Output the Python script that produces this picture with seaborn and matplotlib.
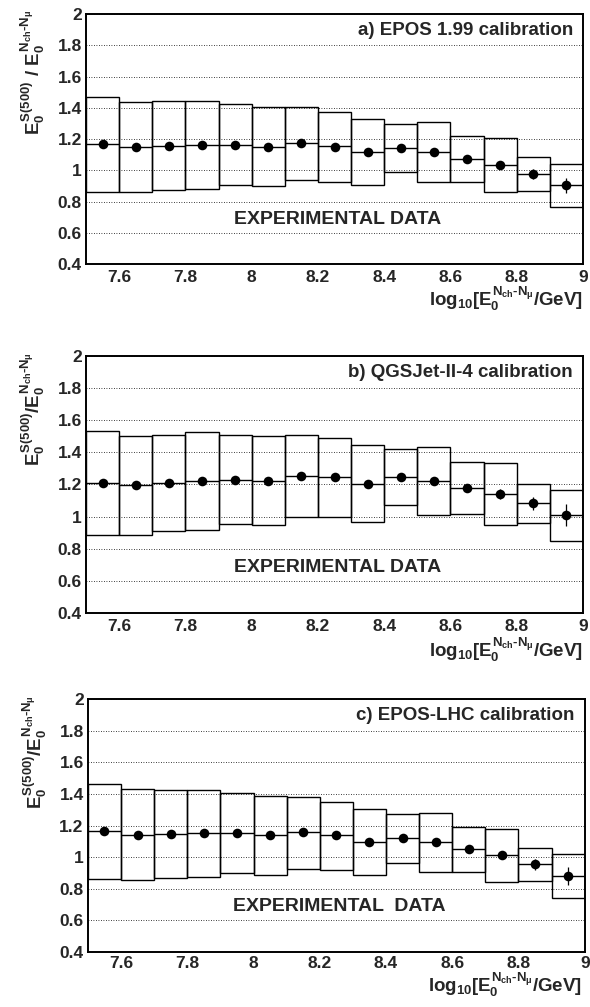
"""
Energy ratio E0^S(500) / E0^(Nch-Nmu) vs log10 energy for three calibrations.
"""

import matplotlib
matplotlib.use("Agg")
import matplotlib.pyplot as plt
from matplotlib.ticker import MultipleLocator, FuncFormatter
import seaborn as sns

# bin centres in log10(E/GeV), bin width 0.1
centers = [7.55, 7.65, 7.75, 7.85, 7.95, 8.05, 8.15, 8.25,
           8.35, 8.45, 8.55, 8.65, 8.75, 8.85, 8.95]
bin_width = 0.1

# a) EPOS 1.99
a_hi = [1.471, 1.437, 1.443, 1.443, 1.422, 1.403, 1.403, 1.375,
        1.328, 1.294, 1.307, 1.217, 1.204, 1.083, 1.042]
a_mean = [1.168, 1.149, 1.155, 1.159, 1.162, 1.151, 1.172, 1.155,
          1.117, 1.140, 1.117, 1.070, 1.036, 0.976, 0.903]
a_lo = [0.863, 0.859, 0.874, 0.882, 0.906, 0.899, 0.938, 0.927,
        0.906, 0.987, 0.923, 0.927, 0.863, 0.867, 0.763]
a_pt = [1.168, 1.149, 1.155, 1.159, 1.162, 1.151, 1.172, 1.151,
        1.117, 1.144, 1.117, 1.070, 1.036, 0.976, 0.903]
a_err = [0.008, 0.008, 0.008, 0.008, 0.008, 0.008, 0.008, 0.008,
         0.008, 0.008, 0.010, 0.010, 0.015, 0.032, 0.050]

# b) QGSJet-II-4
b_hi = [1.532, 1.501, 1.511, 1.524, 1.511, 1.499, 1.511, 1.487,
        1.443, 1.418, 1.435, 1.342, 1.336, 1.203, 1.166]
b_mean = [1.207, 1.195, 1.209, 1.222, 1.228, 1.224, 1.255, 1.244,
          1.205, 1.244, 1.224, 1.180, 1.141, 1.083, 1.011]
b_lo = [0.886, 0.888, 0.909, 0.919, 0.953, 0.948, 1.000, 0.996,
        0.969, 1.073, 1.011, 1.017, 0.948, 0.959, 0.847]
b_pt = [1.207, 1.195, 1.209, 1.222, 1.228, 1.224, 1.255, 1.244,
        1.205, 1.244, 1.222, 1.180, 1.141, 1.083, 1.011]
b_err = [0.008, 0.008, 0.008, 0.008, 0.008, 0.008, 0.008, 0.008,
         0.008, 0.008, 0.010, 0.012, 0.031, 0.041, 0.070]

# c) EPOS-LHC
c_hi = [1.463, 1.429, 1.427, 1.427, 1.404, 1.385, 1.383, 1.351,
        1.305, 1.271, 1.281, 1.193, 1.176, 1.055, 1.019]
c_mean = [1.163, 1.142, 1.148, 1.150, 1.150, 1.138, 1.157, 1.138,
          1.097, 1.121, 1.093, 1.049, 1.011, 0.954, 0.880]
c_lo = [0.859, 0.854, 0.867, 0.873, 0.899, 0.888, 0.928, 0.918,
        0.890, 0.966, 0.907, 0.907, 0.844, 0.848, 0.742]
c_pt = [1.163, 1.142, 1.148, 1.150, 1.150, 1.138, 1.157, 1.138,
        1.097, 1.121, 1.093, 1.049, 1.011, 0.954, 0.880]
c_err = [0.008, 0.008, 0.008, 0.008, 0.008, 0.008, 0.008, 0.008,
         0.008, 0.008, 0.010, 0.012, 0.015, 0.037, 0.055]

titles = ["a) EPOS 1.99 calibration",
          "b) QGSJet-II-4 calibration",
          "c) EPOS-LHC calibration"]
exp_texts = ["EXPERIMENTAL DATA", "EXPERIMENTAL DATA", "EXPERIMENTAL  DATA"]
ylabels = [r"$E_0^{S(500)}\ /\ E_0^{N_{ch}\text{-}N_{\mu}}$",
           r"$E_0^{S(500)}/E_0^{N_{ch}\text{-}N_{\mu}}$",
           r"$E_0^{S(500)}/E_0^{N_{ch}\text{-}N_{\mu}}$"]
xlabel = r"$log_{10}[E_0^{N_{ch}\text{-}N_{\mu}}/GeV]$"


def draw_panel(ax, hi, mean, lo, pt, err, title, exp_text, ylabel,
               xlab_x, xlab_y, xpad=4.5):
    heights = [h - l for h, l in zip(hi, lo)]
    # outline boxes spanning the systematic band in each bin
    ax.bar(centers, heights, bottom=lo, width=bin_width, fill=False,
           edgecolor="black", linewidth=1.0, zorder=3)
    ax.hlines(mean, [c - bin_width / 2 for c in centers],
              [c + bin_width / 2 for c in centers],
              color="black", linewidth=1.0, zorder=3)
    ax.errorbar(centers, pt, yerr=err, fmt="none", ecolor="black",
                elinewidth=0.9, capsize=0, zorder=4)
    sns.scatterplot(x=centers, y=pt, ax=ax, color="black", s=48,
                    edgecolor="black", linewidth=0, zorder=5, legend=False)

    ax.set_xlim(7.5, 9.0)
    ax.set_ylim(0.4, 2.0)

    ax.xaxis.set_major_locator(MultipleLocator(0.1))
    ax.xaxis.set_minor_locator(MultipleLocator(0.05))
    ax.xaxis.set_major_formatter(FuncFormatter(
        lambda v, p: "%g" % round(v, 1) if round(v * 10) % 2 == 0 else ""))
    ax.yaxis.set_major_locator(MultipleLocator(0.2))
    ax.yaxis.set_minor_locator(MultipleLocator(0.04))
    ax.yaxis.set_major_formatter(FuncFormatter(lambda v, p: "%g" % round(v, 1)))

    ax.tick_params(axis="x", which="major", direction="in", length=4.5,
                   width=1.0, pad=xpad, labelsize=12.5, top=False)
    ax.tick_params(axis="x", which="minor", direction="in", length=2.5,
                   width=0.8, top=False)
    ax.tick_params(axis="y", which="major", direction="in", length=5,
                   width=1.0, pad=3, labelsize=12.5, right=False)
    ax.tick_params(axis="y", which="minor", direction="in", length=3.5,
                   width=0.8, right=False)
    for lab in ax.get_xticklabels() + ax.get_yticklabels():
        lab.set_fontweight("bold")

    ax.grid(axis="y", which="major", color="black", linestyle=(0, (1, 2)),
            linewidth=0.6)
    ax.grid(axis="x", visible=False)
    for sp in ax.spines.values():
        sp.set_visible(True)
        sp.set_color("black")
        sp.set_linewidth(1.4)

    ax.text(0.98, 0.935, title, transform=ax.transAxes, ha="right",
            va="center", fontsize=13.5, fontweight="bold")
    ax.text(8.26, 0.685, exp_text, ha="center", va="center",
            fontsize=14, fontweight="bold")
    ax.text(-0.108, 1.015, ylabel, transform=ax.transAxes, rotation=90,
            ha="center", va="top", fontsize=13.5)
    ax.text(xlab_x, xlab_y, xlabel, transform=ax.transAxes, ha="right",
            va="top", fontsize=13.5)
    ax.set_xlabel("")
    ax.set_ylabel("")


def main():
    sns.set_style("white")
    plt.rcParams["font.family"] = ["Liberation Sans", "DejaVu Sans"]
    plt.rcParams["font.weight"] = "bold"
    plt.rcParams["mathtext.fontset"] = "custom"
    plt.rcParams["mathtext.rm"] = "Liberation Sans:bold"
    plt.rcParams["mathtext.it"] = "Liberation Sans:bold"
    plt.rcParams["mathtext.bf"] = "Liberation Sans:bold"
    plt.rcParams["mathtext.sf"] = "Liberation Sans:bold"

    fig = plt.figure(figsize=(5.9, 10.07), dpi=100)
    ax_a = fig.add_axes([0.146, 0.7378, 0.842, 0.2483])
    ax_b = fig.add_axes([0.146, 0.3913, 0.842, 0.2552])
    ax_c = fig.add_axes([0.149, 0.0546, 0.842, 0.2512])

    draw_panel(ax_a, a_hi, a_mean, a_lo, a_pt, a_err,
               titles[0], exp_texts[0], ylabels[0], 1.0, -0.08)
    draw_panel(ax_b, b_hi, b_mean, b_lo, b_pt, b_err,
               titles[1], exp_texts[1], ylabels[1], 1.0, -0.089)
    draw_panel(ax_c, c_hi, c_mean, c_lo, c_pt, c_err,
               titles[2], exp_texts[2], ylabels[2], 0.995, -0.074, xpad=3)

    fig.savefig("out.png", dpi=100, facecolor="white")


if __name__ == "__main__":
    main()
